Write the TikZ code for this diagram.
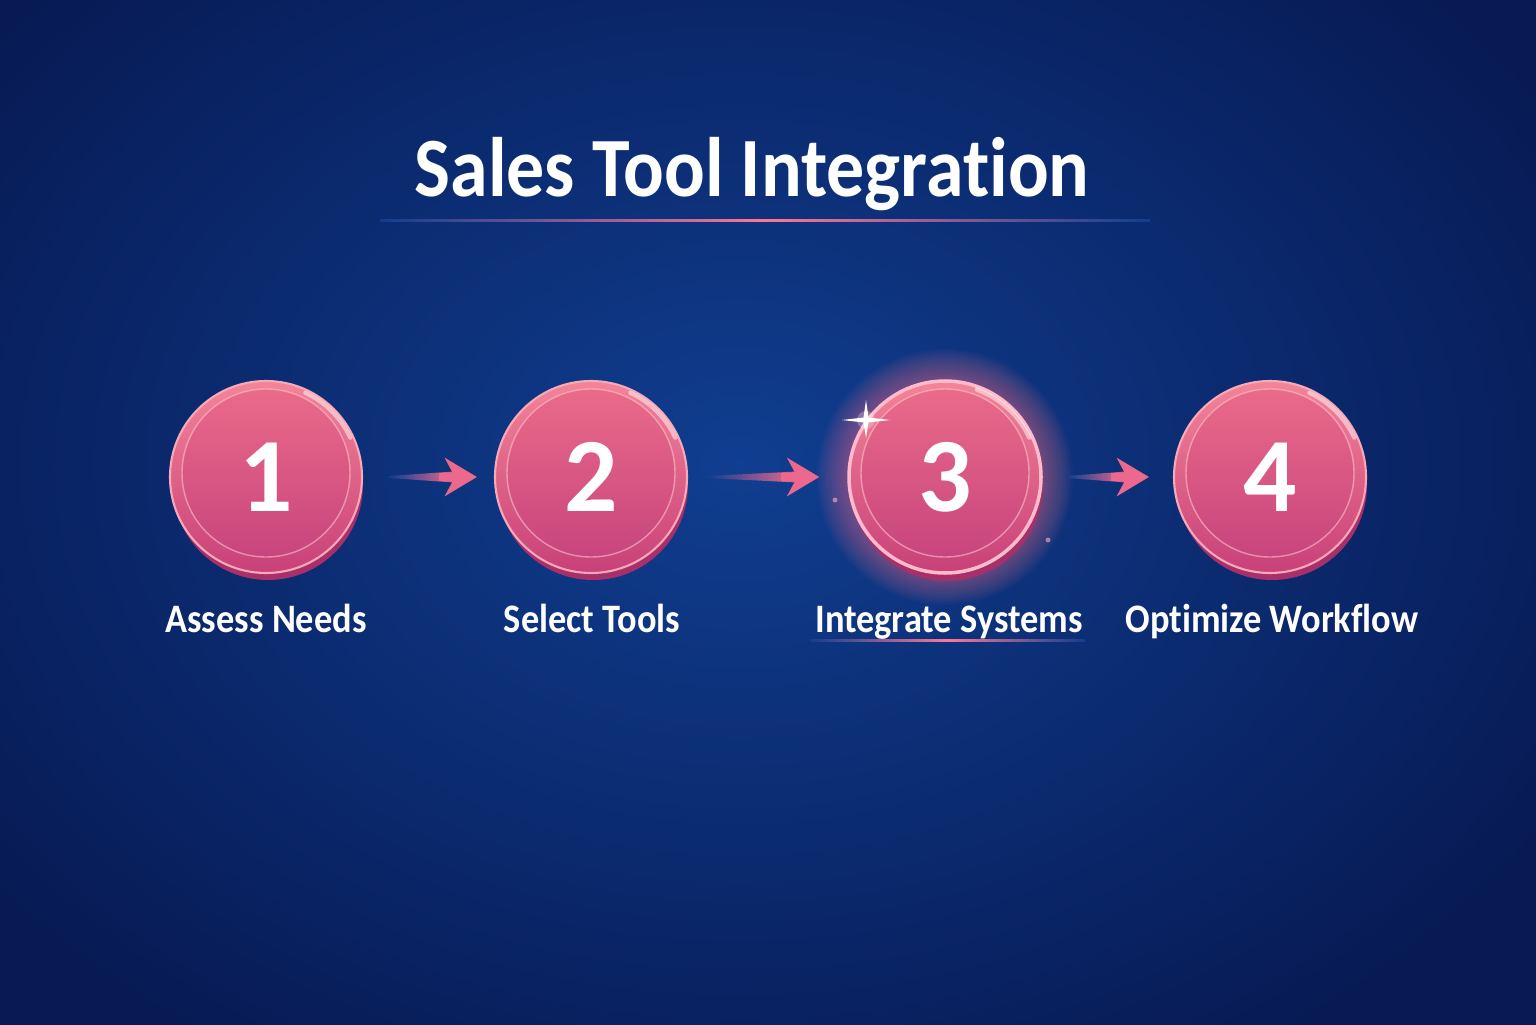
\documentclass[tikz,border=0pt]{standalone}
\usepackage{fontspec}
\setmainfont{Carlito}[FakeStretch=0.9, Ligatures=NoCommon]
\newfontfamily\digitfont{Carlito}
\usetikzlibrary{arrows.meta,calc}

\definecolor{bgdark}{RGB}{7,26,84}
\definecolor{bgmid}{RGB}{16,62,144}
\definecolor{rimtop}{RGB}{244,132,152}
\definecolor{rimbot}{RGB}{200,64,120}
\definecolor{facetop}{RGB}{236,108,138}
\definecolor{facebot}{RGB}{196,66,124}
\definecolor{basepink}{RGB}{168,48,106}
\definecolor{arrowpink}{RGB}{236,104,140}
\definecolor{glowpink}{RGB}{255,118,150}

\begin{document}
\begin{tikzpicture}[
        stepdisc/.style={circle, minimum size=1.92cm, inner sep=0pt,
            top color=rimtop, bottom color=rimbot, draw=rimtop!70!white, line width=0.6pt,
            font=\digitfont\fontsize{30}{30}\selectfont\bfseries, text=white,
            path picture={
                \shade[top color=facetop, bottom color=facebot]
                    ([yshift=0.04cm]path picture bounding box.center) circle (0.84cm);
                \draw[rimtop!50!white, opacity=0.6, line width=0.4pt]
                    ([yshift=0.04cm]path picture bounding box.center) circle (0.84cm);
            }},
        basedisc/.style={fill=basepink},
        steplabel/.style={font=\fontsize{11.5}{13}\selectfont\bfseries, text=white, anchor=base, inner sep=0pt},
        titletext/.style={font=\fontsize{24}{28}\selectfont\bfseries, text=white, anchor=base, inner sep=0pt},
        tailfade/.style={left color=bgmid, right color=arrowpink},
        flowarrow/.style={draw=arrowpink, line width=2pt, -{Stealth[length=3.2mm, width=3.8mm, inset=1mm]}},
        glowline/.style={left color=bgmid, right color=bgmid, middle color=glowpink},
        rimshine/.style={white, opacity=0.5, line width=1.2pt, line cap=round}
    ]

    \useasboundingbox (0,0) rectangle (15.36,10.24);

    % --- Background ---
    \fill[bgdark] (0,0) rectangle (15.36,10.24);
    \shade[inner color=bgmid, outer color=bgdark] (-2.1,-1.4) rectangle (16.9,12.6);

    % --- Title ---
    \node[titletext] (title) at (7.52,8.27) {Sales Tool Integration};
    \shade[glowline] (3.8,8.02) rectangle (11.5,8.045);

    % --- Glow behind step 3 ---
    \foreach \r in {0.98,1.0,...,1.3}
        \fill[glowpink, opacity=0.035] (9.45,5.47) circle (\r);

    % --- Steps ---
    \fill[basedisc] (2.68,5.39) circle (0.95);
    \node[stepdisc] (s1) at (2.66,5.47) {1};
    \fill[basedisc] (5.93,5.39) circle (0.95);
    \node[stepdisc] (s2) at (5.91,5.47) {2};
    \fill[basedisc] (9.47,5.39) circle (0.96);
    \node[stepdisc, draw=glowpink!50!white, line width=1pt] (s3) at (9.45,5.47) {3};
    \fill[basedisc] (12.72,5.39) circle (0.95);
    \node[stepdisc] (s4) at (12.70,5.47) {4};

    % rim highlights
    \draw[rimshine] ($(s1)+(25:0.93)$) arc (25:65:0.93);
    \draw[rimshine] ($(s2)+(25:0.93)$) arc (25:65:0.93);
    \draw[rimshine] ($(s3)+(25:0.93)$) arc (25:70:0.93);
    \draw[rimshine] ($(s4)+(25:0.93)$) arc (25:65:0.93);

    % sparkle on step 3
    \fill[white, opacity=0.25] (8.66,6.04) circle (0.09);
    \fill[white] (8.66,6.24) -- (8.685,6.065) -- (8.9,6.04) -- (8.685,6.015)
        -- (8.66,5.86) -- (8.635,6.015) -- (8.42,6.04) -- (8.635,6.065) -- cycle;
    \fill[glowpink!60!white, opacity=0.6] (8.35,5.24) circle (0.025);
    \fill[glowpink!60!white, opacity=0.6] (10.48,4.84) circle (0.025);

    % --- Arrows ---
    \shade[tailfade] ($(s1.east)+(0.26,0.01)$) -- ($(s2.west)+(-0.4,0.055)$) -- ($(s2.west)+(-0.4,-0.055)$) -- ($(s1.east)+(0.26,-0.01)$) -- cycle;
    \draw[flowarrow, shorten <=0.76cm, shorten >=0.17cm] (s1) -- (s2);

    \shade[tailfade] ($(s2.east)+(0.19,0.01)$) -- ($(s3.west)+(-0.5,0.055)$) -- ($(s3.west)+(-0.5,-0.055)$) -- ($(s2.east)+(0.19,-0.01)$) -- cycle;
    \draw[flowarrow, shorten <=0.93cm, shorten >=0.28cm] (s2) -- (s3);

    \shade[tailfade] ($(s3.east)+(0.24,0.01)$) -- ($(s4.west)+(-0.47,0.055)$) -- ($(s4.west)+(-0.47,-0.055)$) -- ($(s3.east)+(0.24,-0.01)$) -- cycle;
    \draw[flowarrow, shorten <=0.68cm, shorten >=0.24cm] (s3) -- (s4);

    % --- Labels ---
    \node[steplabel] (l1) at (2.66,3.92) {Assess Needs};
    \node[steplabel] (l2) at (5.92,3.92) {Select Tools};
    \node[steplabel] (l3) at (9.49,3.92) {Integrate Systems};
    \node[steplabel] (l4) at (12.72,3.92) {Optimize Workflow};
    \shade[glowline] (8.1,3.83) rectangle (10.85,3.85);

\end{tikzpicture}
\end{document}
